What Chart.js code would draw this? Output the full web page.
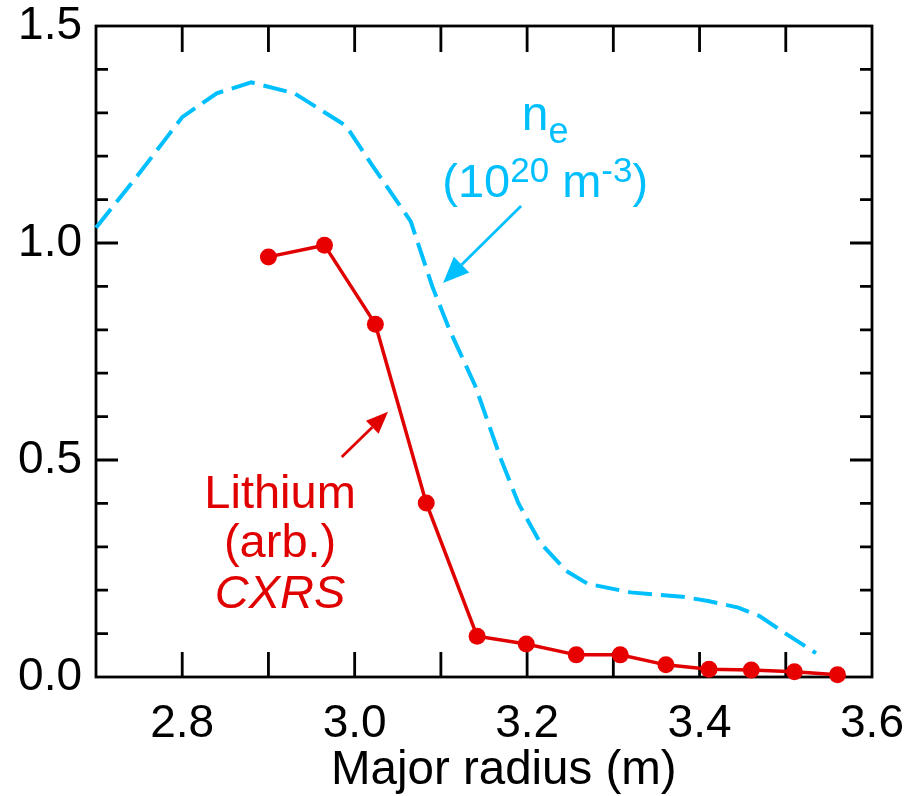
<!DOCTYPE html>
<html>
<head>
<meta charset="utf-8">
<script src="https://cdn.jsdelivr.net/npm/chart.js@4.4.1/dist/chart.umd.min.js"></script>
<style>
  html, body { margin: 0; padding: 0; background: #fff; }
  #wrap { width: 914px; height: 796px; }
</style>
</head>
<body>
<div id="wrap"><canvas id="myChart"></canvas></div>
<script>
// lithium CXRS points
const radiusLi = [2.90, 2.965, 3.024, 3.083, 3.142, 3.199, 3.257, 3.308, 3.361, 3.411, 3.460, 3.510, 3.560];
const lithium  = [0.968, 0.995, 0.813, 0.401, 0.094, 0.076, 0.051, 0.051, 0.028, 0.018, 0.016, 0.012, 0.005];

// electron density profile
const radiusNe = [2.70, 2.75, 2.80, 2.84, 2.88, 2.93, 2.99, 3.02, 3.065, 3.09, 3.11, 3.14, 3.17, 3.19, 3.215, 3.245, 3.27, 3.32, 3.38, 3.41, 3.445, 3.47, 3.50, 3.535];
const density  = [1.035, 1.16, 1.29, 1.345, 1.37, 1.345, 1.27, 1.18, 1.05, 0.90, 0.80, 0.67, 0.50, 0.40, 0.31, 0.245, 0.215, 0.195, 0.185, 0.175, 0.16, 0.14, 0.10, 0.055];

const xTickLabels = [2.8, 3.0, 3.2, 3.4, 3.6];
const yTickLabels = [0.0, 0.5, 1.0, 1.5];

const RED = '#e00000';
const CYAN = '#00bfff';
const FONT = '"Liberation Sans", Arial, Helvetica, sans-serif';

function drawRuns(ctx, runs, cx, baseY, color) {
    // runs: [text, size, yshift, italic]
    let total = 0;
    const widths = runs.map(r => {
        ctx.font = (r[3] ? 'italic ' : '') + r[1] + 'px ' + FONT;
        const w = ctx.measureText(r[0]).width;
        total += w;
        return w;
    });
    let xPos = cx - total / 2;
    ctx.fillStyle = color;
    ctx.textAlign = 'left';
    ctx.textBaseline = 'alphabetic';
    runs.forEach((r, i) => {
        ctx.font = (r[3] ? 'italic ' : '') + r[1] + 'px ' + FONT;
        ctx.fillText(r[0], xPos, baseY + r[2]);
        xPos += widths[i];
    });
}

function drawArrow(ctx, x1, y1, x2, y2, color, width, headLen, headWide) {
    const ang = Math.atan2(y2 - y1, x2 - x1);
    const bx = x2 - headLen * Math.cos(ang);
    const by = y2 - headLen * Math.sin(ang);
    ctx.strokeStyle = color;
    ctx.fillStyle = color;
    ctx.lineWidth = width;
    ctx.beginPath();
    ctx.moveTo(x1, y1);
    ctx.lineTo(bx, by);
    ctx.stroke();
    ctx.beginPath();
    ctx.moveTo(x2, y2);
    ctx.lineTo(bx + headWide / 2 * Math.sin(ang), by - headWide / 2 * Math.cos(ang));
    ctx.lineTo(bx - headWide / 2 * Math.sin(ang), by + headWide / 2 * Math.cos(ang));
    ctx.closePath();
    ctx.fill();
}

const frameTicks = {
    id: 'frameTicks',
    beforeDatasetsDraw(chart) {
        const { ctx, chartArea: a, scales: { x, y } } = chart;
        ctx.save();
        ctx.strokeStyle = '#000';
        ctx.lineWidth = 2.8;
        ctx.strokeRect(a.left, a.top, a.right - a.left, a.bottom - a.top);
        ctx.beginPath();
        for (let i = 1; i < 9; i++) {
            const px = x.getPixelForValue(2.7 + i * 0.1);
            ctx.moveTo(px, a.bottom); ctx.lineTo(px, a.bottom - 25);
            ctx.moveTo(px, a.top); ctx.lineTo(px, a.top + 26);
        }
        for (let i = 1; i < 15; i++) {
            const py = y.getPixelForValue(i * 0.1);
            const len = i % 5 === 0 ? 22 : 12;
            ctx.moveTo(a.left, py); ctx.lineTo(a.left + len, py);
            ctx.moveTo(a.right, py); ctx.lineTo(a.right - len, py);
        }
        ctx.stroke();
        ctx.restore();
    },
    afterDraw(chart) {
        const { ctx, scales: { x, y } } = chart;
        ctx.save();
        // n_e label
        drawRuns(ctx, [['n', 48, 0], ['e', 36, 13]], x.getPixelForValue(3.221), y.getPixelForValue(1.26), CYAN);
        drawRuns(ctx, [['(10', 47, 0], ['20', 35, -15], [' m', 47, 0], ['-3', 35, -15], [')', 47, 0]],
            x.getPixelForValue(3.221), y.getPixelForValue(1.106), CYAN);
        drawArrow(ctx, x.getPixelForValue(3.193), y.getPixelForValue(1.085),
            x.getPixelForValue(3.1025), y.getPixelForValue(0.908), CYAN, 2.8, 26, 22);
        // lithium label
        const cx = x.getPixelForValue(2.9135);
        drawRuns(ctx, [['Lithium', 47, 0]], cx, y.getPixelForValue(0.389), RED);
        drawRuns(ctx, [['(arb.)', 47, 0]], cx, y.getPixelForValue(0.276), RED);
        drawRuns(ctx, [['CXRS', 47, 0, true]], cx, y.getPixelForValue(0.159), RED);
        drawArrow(ctx, x.getPixelForValue(2.985), y.getPixelForValue(0.507),
            x.getPixelForValue(3.0387), y.getPixelForValue(0.611), RED, 2.8, 22, 18);
        ctx.restore();
    }
};

new Chart(document.getElementById('myChart'), {
    type: 'line',
    data: {
        datasets: [
            {
                label: 'Lithium (arb.) CXRS',
                data: radiusLi.map((r, i) => ({ x: r, y: lithium[i] })),
                borderColor: RED,
                backgroundColor: '#e80000',
                borderWidth: 3.5,
                pointRadius: 8.5,
                pointBorderWidth: 0,
                tension: 0,
                fill: false,
                clip: false
            },
            {
                label: 'ne',
                data: radiusNe.map((r, i) => ({ x: r, y: density[i] })),
                borderColor: CYAN,
                borderWidth: 4,
                borderDash: [24, 9],
                pointRadius: 0,
                tension: 0,
                fill: false,
                clip: false
            }
        ]
    },
    options: {
        responsive: true,
        maintainAspectRatio: false,
        animation: false,
        layout: { padding: { left: 0, right: 42, top: 26, bottom: 0 } },
        plugins: {
            legend: { display: false },
            tooltip: { enabled: false }
        },
        scales: {
            x: {
                type: 'linear',
                min: 2.7,
                max: 3.6,
                afterBuildTicks: s => { s.ticks = xTickLabels.map(v => ({ value: v })); },
                afterFit: s => { s.height = 119; s.paddingLeft = 0; s.paddingRight = 0; },
                grid: { display: false, drawTicks: false },
                border: { display: false },
                ticks: {
                    color: '#000',
                    padding: 20,
                    maxRotation: 0,
                    font: { family: FONT, size: 46 },
                    callback: v => v.toFixed(1)
                },
                title: {
                    display: true,
                    text: '   Major radius (m)',
                    color: '#000',
                    font: { family: FONT, size: 47.5 },
                    padding: { top: 0, bottom: -3 }
                }
            },
            y: {
                type: 'linear',
                min: 0,
                max: 1.5,
                afterBuildTicks: s => { s.ticks = yTickLabels.map(v => ({ value: v })); },
                afterFit: s => { s.width = 96; s.paddingTop = 0; s.paddingBottom = 0; },
                grid: { display: false, drawTicks: false },
                border: { display: false },
                ticks: {
                    color: '#000',
                    padding: 14,
                    font: { family: FONT, size: 46 },
                    callback: v => v.toFixed(1)
                }
            }
        }
    },
    plugins: [frameTicks]
});
</script>
</body>
</html>
